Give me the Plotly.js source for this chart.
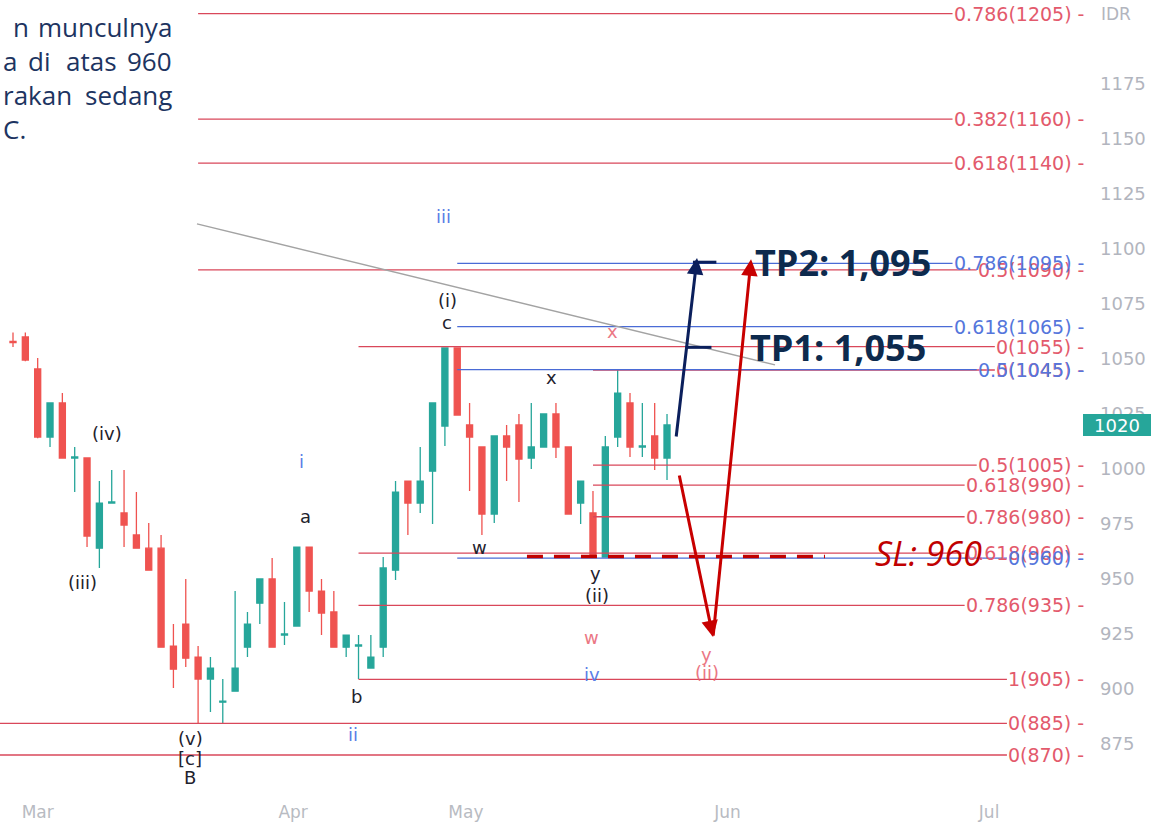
<!DOCTYPE html>
<html>
<head>
<meta charset="utf-8">
<script src="https://cdn.plot.ly/plotly-3.0.1.min.js"></script>
<style>
html,body{margin:0;padding:0;background:#ffffff;}
#chart{width:1151px;height:822px;}
</style>
</head>
<body>
<div id="chart"></div>
<script>
// ---------------- DATA ----------------
const opens  = [1058,1060,1045.5,1014.5,1030,1005,1005,964,984.5,980,970,964,964,919.5,929.5,914.5,904.5,894,899,919,939,950,924.5,928.6,964.5,944.5,935,919,919.5,909.5,919,954,994.5,984.5,999,1019.5,1055,1020,1010,979.5,1015,1020,1005,1010,1025,1010,984.5,980,960,1014.5,1030,1010,1015,1005];
const highs  = [1062,1062,1050.5,1030,1034.5,1010,1005,994.5,999.5,999.5,989.5,975.5,970,929.5,950,919.5,914.5,904.5,944.5,935,950,959.5,939.5,964.5,964.5,950,944.5,924.5,924.5,924.5,960,994.5,994.5,1010,1030,1055,1055,1030,1010,1015,1020,1025,1030,1025,1030,1010,994.5,990,1015,1045,1034.5,1030,1030,1025];
const lows   = [1055.5,1049,1014,1010,1005,989.5,964.5,955,984.5,964.5,964,954,919,900.5,910,884.5,889.5,884.5,899,914.5,929.5,919,920,928.6,935,924.5,919,914.5,904.5,909.5,914.5,949.5,970,980,975,1010.5,1024.5,990,970,975.5,994.5,985,1000,1010,1005,979.5,975,960,960,1010,1005.5,1005.5,999.5,995];
const closes = [1057.5,1049.5,1014.5,1030,1005,1005.5,969.5,984.5,985,974.5,964,954,919,909,914,904.5,909.5,894.5,909.5,929.5,950,919,925,964.5,944.5,934.5,919,924.5,920,914.5,955,989.5,984.5,994.5,1030,1055,1024.5,1014.5,979.5,1015,1010,1004.5,1010,1025,1010,979.5,994.5,960,1010,1034.5,1010,1010.5,1005,1020];
const bars = opens.map((_, i) => i);

const monthTicks  = [2, 22.7, 36.7, 57.9, 79.1];
const monthLabels = ['Mar', 'Apr', 'May', 'Jun', 'Jul'];
const priceTicks  = [875, 900, 925, 950, 975, 1000, 1025, 1050, 1075, 1100, 1125, 1150, 1175];

const redFibPrice    = [1207, 1159, 1139, 1090.5, 1055.6, 1045, 1001.8, 992.7, 978.3, 961.8, 938, 904.4, 884.4, 870];
const redFibLabel    = ['0.786(1205)','0.382(1160)','0.618(1140)','0.5(1090)','0(1055)','0(1045)','0.5(1005)','0.618(990)','0.786(980)','0.618(960)','0.786(935)','1(905)','0(885)','0(870)'];
const redFibStartBar = [15, 15, 15, 15, 28, 47, 47, 47, 47, 28, 28, 28, null, null];

const blueFibPrice    = [1093.5, 1064.7, 1045.2, 959.5];
const blueFibLabel    = ['0.786(1095)','0.618(1065)','0.5(1045)','0(960)'];
const blueFibStartBar = [36, 36, 36, 36];

const waveText  = ['(iv)','(iii)','(v)','[c]','B','a','b','(i)','c','x','w','y','(ii)'];
const waveBar   = [7.6, 5.6, 14.35, 14.35, 14.35, 23.7, 27.8, 35.2, 35.2, 43.6, 37.8, 47.2, 47.3];
const wavePrice = [1016.1, 948.2, 877.7, 868.6, 860, 978.6, 896.4, 1076.8, 1066.8, 1041.8, 964.1, 952.3, 942.3];

const blueWaveText  = ['iii','i','ii','iv'];
const blueWaveBar   = [34.85, 23.34, 27.55, 46.9];
const blueWavePrice = [1115, 1003.6, 879.1, 906.4];

const redWaveText  = ['x','w','y','(ii)'];
const redWaveBar   = [48.6, 46.9, 56.2, 56.25];
const redWavePrice = [1062.7, 923.6, 915.9, 907.3];

const trendBar   = [14.91, 61.75];
const trendPrice = [1111.4, 1047.3];

const tpLabels = ['TP2: 1,095', 'TP1: 1,055'];
const tpPrice  = [1094, 1055.3];
const tpTextBar = [60.0, 59.6];
const tpDashBar = [[55.1, 57.0], [54.5, 56.6]];

const slLabel = 'SL: 960';
const slPrice = 960.2;
const slBar = [41.65, 65.8];
const slTextBar = 69.7;

const navyArrowBar = [53.73, 55.43];
const navyArrowPrice = [1014.1, 1095.9];
const redArrowBar = [53.97, 56.73, 59.81];
const redArrowPrice = [997.7, 923.6, 1095.3];

const lastPrice = 1020;

const introLines = [
  [{t:'n', px:12, a:'left'}, {t:'munculnya', px:173, a:'right'}],
  [{t:'a', px:2, a:'left'}, {t:'di', px:27, a:'left'}, {t:'atas', px:65, a:'left'}, {t:'960', px:173, a:'right'}],
  [{t:'rakan', px:2, a:'left'}, {t:'sedang', px:173, a:'right'}],
  [{t:'C.', px:2, a:'left'}]
];
const introLineY = [27, 61, 95, 129];

// ---------------- LAYOUT HELPERS ----------------
const W = 1151, H = 822;
const M = {l: 0, r: 61, t: 0, b: 32};
const PW = W - M.l - M.r, PH = H - M.t - M.b;
const X0 = -1.0535, X1 = 87.277;
const Y0 = 854.09, Y1 = 1213.18;
const pxToBar = px => X0 + (px - M.l) / PW * (X1 - X0);
const pxToPaperX = px => (px - M.l) / PW;
const pyToPaperY = py => 1 - (py - M.t) / PH;

const ctx = document.createElement('canvas').getContext('2d');
const LABEL_FONT = 'DejaVu Sans';
const LABEL_SIZE = 19;
function textW(t){ ctx.font = LABEL_SIZE + 'px "' + LABEL_FONT + '"'; return ctx.measureText(t).width; }

const RED_LINE = '#d9475a', RED_TXT = '#e35a6c';
const BLUE_LINE = '#4a6bd6', BLUE_TXT = '#5576dc';
const LABEL_RIGHT_PX = 1085;

const shapes = [];
const annotations = [];

function addFib(prices, labels, starts, lineColor, txtColor){
  prices.forEach((p, i) => {
    const txt = labels[i] + ' -';
    const endPx = LABEL_RIGHT_PX - textW(txt) - 2;
    shapes.push({type:'line', xref:'x', yref:'y',
      x0: starts[i] === null ? X0 : starts[i], x1: pxToBar(endPx), y0: p, y1: p,
      line:{color: lineColor, width: 1.3}});
    annotations.push({xref:'paper', yref:'y', x: pxToPaperX(LABEL_RIGHT_PX), y: p,
      xanchor:'right', yanchor:'middle', text: txt, showarrow:false, borderpad:0,
      font:{family: LABEL_FONT, size: LABEL_SIZE, color: txtColor}});
  });
}
addFib(redFibPrice, redFibLabel, redFibStartBar, RED_LINE, RED_TXT);
addFib(blueFibPrice, blueFibLabel, blueFibStartBar, BLUE_LINE, BLUE_TXT);

// trend line
shapes.push({type:'line', xref:'x', yref:'y', x0: trendBar[0], x1: trendBar[1], y0: trendPrice[0], y1: trendPrice[1],
  line:{color:'#a3a3a3', width:1.4}});

// SL dashed line
shapes.push({type:'line', xref:'x', yref:'y', x0: slBar[0], x1: slBar[1], y0: slPrice, y1: slPrice,
  line:{color:'#c00000', width:3.5, dash:'16px,11px'}});

// TP dashes
tpDashBar.forEach((b, i) => {
  shapes.push({type:'line', xref:'x', yref:'y', x0: b[0], x1: b[1], y0: tpPrice[i], y1: tpPrice[i],
    line:{color:'#0b1f5c', width:3}});
});

// wave labels
function addWave(texts, bs, ps, color, size, opacity){
  texts.forEach((t, i) => {
    annotations.push({xref:'x', yref:'y', x: bs[i], y: ps[i], text: t, showarrow:false,
      xanchor:'center', yanchor:'middle', opacity: opacity,
      font:{family: LABEL_FONT, size: size, color: color}});
  });
}
addWave(waveText, waveBar, wavePrice, '#1e222d', 18, 1);
addWave(blueWaveText, blueWaveBar, blueWavePrice, '#5b7ee6', 18, 1);
addWave(redWaveText, redWaveBar, redWavePrice, '#e8606f', 18, 0.85);

// arrows
annotations.push({xref:'x', yref:'y', axref:'x', ayref:'y',
  x: navyArrowBar[1], y: navyArrowPrice[1], ax: navyArrowBar[0], ay: navyArrowPrice[0],
  text:'', showarrow:true, arrowhead:2, arrowsize:1.1, arrowwidth:3, arrowcolor:'#0b1f5c', standoff:0});
annotations.push({xref:'x', yref:'y', axref:'x', ayref:'y',
  x: redArrowBar[1], y: redArrowPrice[1], ax: redArrowBar[0], ay: redArrowPrice[0],
  text:'', showarrow:true, arrowhead:2, arrowsize:1.1, arrowwidth:3, arrowcolor:'#c80000', standoff:0});
annotations.push({xref:'x', yref:'y', axref:'x', ayref:'y',
  x: redArrowBar[2], y: redArrowPrice[2], ax: redArrowBar[1], ay: redArrowPrice[1],
  text:'', showarrow:true, arrowhead:2, arrowsize:1.1, arrowwidth:3, arrowcolor:'#c80000', standoff:0});

// TP texts
tpLabels.forEach((t, i) => {
  annotations.push({xref:'x', yref:'y', x: tpTextBar[i], y: tpPrice[i], text: t, showarrow:false,
    xanchor:'left', yanchor:'middle',
    font:{family:'Open Sans', size:36, weight:700, color:'#0d2a4d'}});
});
// SL text
annotations.push({xref:'x', yref:'y', x: slTextBar, y: 961.8, text: slLabel, showarrow:false,
  xanchor:'left', yanchor:'middle',
  font:{family:'Open Sans', size:34, style:'italic', color:'#c00000'}});

// IDR + last price box
annotations.push({xref:'paper', yref:'paper', x: pxToPaperX(1099), y: pyToPaperY(14), text:'IDR',
  showarrow:false, xanchor:'left', yanchor:'middle',
  font:{family: LABEL_FONT, size:17, color:'#b2b5be'}});
annotations.push({xref:'paper', yref:'y', x: pxToPaperX(1083), y: lastPrice, text: String(lastPrice),
  showarrow:false, xanchor:'left', yanchor:'middle', bgcolor:'#26a69a', borderpad:0, borderwidth:0,
  width:68, height:22, align:'center',
  font:{family: LABEL_FONT, size:18, color:'#ffffff'}});

// intro text
introLines.forEach((line, li) => {
  line.forEach(w => {
    annotations.push({xref:'paper', yref:'paper', x: pxToPaperX(w.px), y: pyToPaperY(introLineY[li]),
      text: w.t, showarrow:false, xanchor: w.a, yanchor:'middle', borderpad:0,
      font:{family:'Open Sans', size:26, color:'#1d3461'}});
  });
});

const trace = {
  type:'candlestick', x: bars, open: opens, high: highs, low: lows, close: closes,
  increasing:{line:{color:'#26a69a', width:1.3}, fillcolor:'#26a69a'},
  decreasing:{line:{color:'#ef5350', width:1.3}, fillcolor:'#ef5350'},
  whiskerwidth:0, hoverinfo:'skip', showlegend:false
};

const layout = {
  width: W, height: H,
  margin: M,
  paper_bgcolor:'#ffffff', plot_bgcolor:'#ffffff',
  showlegend:false,
  hovermode:false,
  xaxis:{
    type:'linear', range:[X0, X1], tickmode:'array', tickvals: monthTicks, ticktext: monthLabels,
    showgrid:false, zeroline:false, showline:false, ticks:'', ticklabelstandoff: 10,
    tickfont:{family: LABEL_FONT, size:17, color:'#b8bbc2'},
    rangeslider:{visible:false}, fixedrange:true
  },
  yaxis:{
    side:'right', range:[Y0, Y1], tickmode:'array', tickvals: priceTicks,
    showgrid:false, zeroline:false, showline:false, ticks:'', ticklabelstandoff: 9,
    tickfont:{family: LABEL_FONT, size:18, color:'#b2b5be'}, fixedrange:true
  },
  shapes: shapes,
  annotations: annotations
};

Plotly.newPlot('chart', [trace], layout, {staticPlot:true, displayModeBar:false});
</script>
</body>
</html>
